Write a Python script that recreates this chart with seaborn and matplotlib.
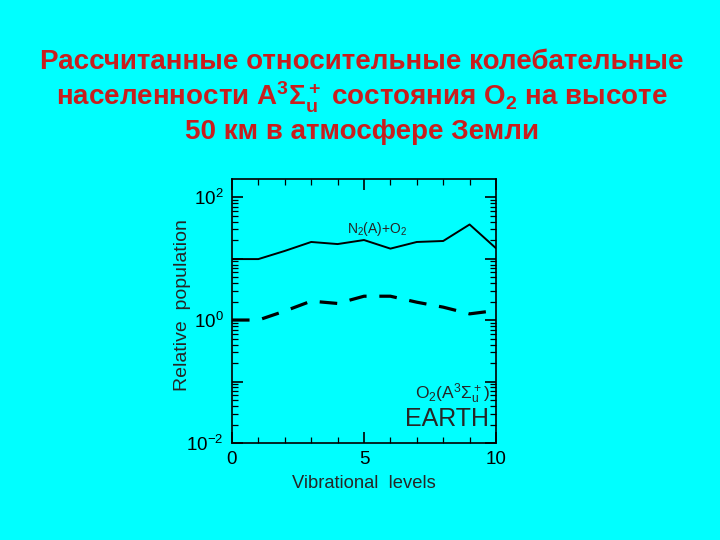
import numpy as np
import pandas as pd
import seaborn as sns
import matplotlib
matplotlib.use("Agg")
import matplotlib.pyplot as plt
from matplotlib.ticker import LogLocator, NullFormatter

# data
levels = [0, 1, 2, 3, 4, 5, 6, 7, 8, 9, 10]
n2_o2 = [9.8, 9.8, 13.3, 18.6, 17.2, 20.0, 14.5, 18.6, 19.3, 35.8, 14.7]
o2_earth = [1.0, 1.0, 1.4, 2.03, 1.86, 2.44, 2.44, 1.95, 1.62, 1.26, 1.43]

title = ("Рассчитанные относительные колебательные\n"
         "населенности A$^3Σ_u^+$ состояния O$_2$ на высоте\n"
         "50 км в атмосфере Земли")
ytick_vals = [1e-2, 1e-1, 1e0, 1e1, 1e2]
ytick_labels = ["10$^{-2}$", "", "10$^0$", "", "10$^2$"]

bg = "#00FFFF"
sns.set_theme(style="ticks")
plt.rcParams["font.family"] = ["Liberation Sans", "DejaVu Sans"]
plt.rcParams["mathtext.fontset"] = "custom"
plt.rcParams["mathtext.rm"] = "Liberation Sans"
plt.rcParams["mathtext.it"] = "Liberation Sans"
plt.rcParams["mathtext.bf"] = "Liberation Sans:bold"
plt.rcParams["mathtext.default"] = "regular"

df = pd.DataFrame({"level": levels + levels,
                   "pop": n2_o2 + o2_earth,
                   "run": ["N2(A)+O2"] * len(levels) + ["O2"] * len(levels)})

fig = plt.figure(figsize=(7.2, 5.4), dpi=100, facecolor=bg)
ax = fig.add_axes([0.3222, 0.1796, 0.3667, 0.488])
ax.set_facecolor(bg)

sns.lineplot(data=df, x="level", y="pop", style="run", color="black",
             dashes={"N2(A)+O2": "", "O2": (5.5, 4)}, size="run",
             sizes={"N2(A)+O2": 1.4, "O2": 2.3}, legend=False, ax=ax)

ax.set_yscale("log")
ax.set_xlim(0, 10)
ax.set_ylim(1e-2, 193)
ax.set_xticks([0, 5, 10])
ax.set_xticks(levels, minor=True)
ax.set_yticks(ytick_vals)
ax.set_yticklabels(ytick_labels)
ax.yaxis.set_minor_locator(LogLocator(base=10, subs=np.arange(2, 10)))
ax.yaxis.set_minor_formatter(NullFormatter())

for s in ax.spines.values():
    s.set_color("black")
    s.set_linewidth(1.2)
ax.tick_params(which="both", direction="in", top=True, right=True, colors="black")
ax.tick_params(which="major", length=8, width=1.2, labelsize=13.5, pad=6)
ax.tick_params(which="minor", length=4, width=0.9)

ax.set_xlabel("Vibrational  levels", fontsize=13.2, labelpad=5)
ax.set_ylabel("Relative  population", fontsize=14)
ax.yaxis.set_label_coords(-0.155, 0.524)

ax.text(5.5, 30, "N$_2$(A)+O$_2$", fontsize=10, ha="center", va="center")
ax.text(9.75, 0.063, "O$_2$(A$^3Σ_u^+$)", fontsize=12.5, ha="right", va="center")
ax.text(9.75, 0.0245, "EARTH", fontsize=18, ha="right", va="center")

fig.text(0.503, 0.91, title, fontsize=20, fontweight="bold", color="#C81E1E",
         ha="center", va="top", linespacing=1.2)

fig.savefig("out.png", dpi=100, facecolor=bg)
